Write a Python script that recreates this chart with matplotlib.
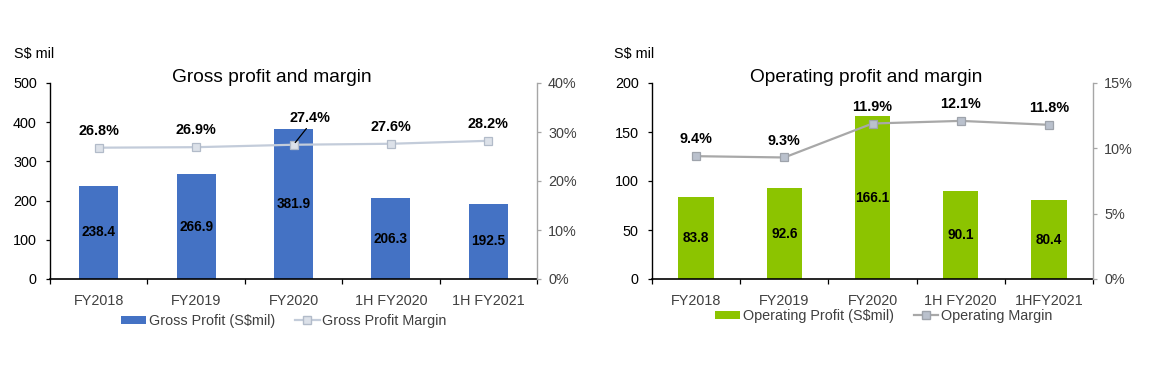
import matplotlib
matplotlib.use("Agg")
import matplotlib.pyplot as plt
from matplotlib.patches import Patch
from matplotlib.lines import Line2D
from matplotlib.ticker import FuncFormatter, FixedLocator

plt.rcParams['font.family'] = ['Liberation Sans', 'DejaVu Sans']

# ---- data ----
gp_categories = ["FY2018", "FY2019", "FY2020", "1H FY2020", "1H FY2021"]
gross_profit = [238.4, 266.9, 381.9, 206.3, 192.5]
gross_margin = [26.8, 26.9, 27.4, 27.6, 28.2]

op_categories = ["FY2018", "FY2019", "FY2020", "1H FY2020", "1HFY2021"]
op_profit = [83.8, 92.6, 166.1, 90.1, 80.4]
op_margin = [9.4, 9.3, 11.9, 12.1, 11.8]

gp_title = "Gross profit and margin"
op_title = "Operating profit and margin"
unit_label = "S$ mil"
gp_legend = ["Gross Profit (S$mil)", "Gross Profit Margin"]
op_legend = ["Operating Profit (S$mil)", "Operating Margin"]

W, H = 1154, 376
fig = plt.figure(figsize=(W / 100, H / 100), dpi=100)

FS = 10.4
TXT_GREY = "#404040"


def panel(left_px, right_px, cats, bars, margins, bar_color, ylim, ystep,
          plim, pstep, line_color, mface, medge, title, title_x, special=None):
    top_px, bot_px = 83, 279
    ax = fig.add_axes([left_px / W, 1 - bot_px / H,
                       (right_px - left_px) / W, (bot_px - top_px) / H])
    x = list(range(len(cats)))
    ax.bar(x, bars, width=0.4, color=bar_color, zorder=2)
    ax.set_xlim(-0.5, len(cats) - 0.5)
    ax.set_ylim(0, ylim)
    ax.yaxis.set_major_locator(FixedLocator(list(range(0, ylim + 1, ystep))))
    ax.set_xticks(x)
    ax.set_xticklabels(cats, fontsize=FS, color=TXT_GREY)
    ax.xaxis.set_minor_locator(FixedLocator([i - 0.5 for i in range(len(cats) + 1)]))
    ax.tick_params(axis='x', which='major', length=0, pad=11)
    ax.tick_params(axis='x', which='minor', length=3.5, width=0.9, direction='out', color='black')
    ax.tick_params(axis='y', length=3, width=0.9, pad=6.5, labelsize=FS, colors='black')
    for s in ['top', 'right']:
        ax.spines[s].set_visible(False)
    ax.spines['left'].set_linewidth(1.0)
    ax.spines['bottom'].set_linewidth(1.2)
    for i, v in enumerate(bars):
        ax.text(i, v / 2, f"{v:.1f}", ha='center', va='center', fontsize=9.8,
                fontweight='bold', color='black', zorder=3)

    ax2 = ax.twinx()
    ax2.set_ylim(0, plim)
    ax2.yaxis.set_major_locator(FixedLocator(list(range(0, plim + 1, pstep))))
    ax2.yaxis.set_major_formatter(FuncFormatter(lambda v, p: f"{v:.0f}%"))
    ax2.plot(x, margins, color=line_color, lw=1.6, marker='s', markersize=5.5,
             markerfacecolor=mface, markeredgecolor=medge, markeredgewidth=0.9, zorder=3)
    for s in ['top', 'left', 'bottom']:
        ax2.spines[s].set_visible(False)
    ax2.spines['right'].set_color('#A6A6A6')
    ax2.spines['right'].set_linewidth(1.0)
    ax2.tick_params(axis='y', length=3, width=0.9, color='#A6A6A6', pad=5,
                    labelsize=FS, labelcolor=TXT_GREY)
    for i, m in enumerate(margins):
        if special is not None and i == special:
            ax2.annotate(f"{m:.1f}%", xy=(i, m), xytext=(11.5, 19.5),
                         textcoords='offset points', ha='center', va='center',
                         fontsize=FS, fontweight='bold', color='black',
                         arrowprops=dict(arrowstyle='-', color='black', lw=0.9,
                                         relpos=(0.5, 0.0), shrinkA=1, shrinkB=2))
        else:
            ax2.annotate(f"{m:.1f}%", xy=(i, m), xytext=(0, 12.2),
                         textcoords='offset points', ha='center', va='center',
                         fontsize=FS, fontweight='bold', color='black')
    ax.text(title_x, 1.03, title, transform=ax.transAxes, ha='center', va='center',
            fontsize=13.8, color='black')
    return ax, ax2


panel(50, 537, gp_categories, gross_profit, gross_margin, "#4472C4", 500, 100,
      40, 10, "#C3CCDA", "#DCE1E9", "#B2BBC9", gp_title, 0.456, special=2)
panel(652, 1093, op_categories, op_profit, op_margin, "#8CC400", 200, 50,
      15, 5, "#A8A8A8", "#BAC1CD", "#9EA3AB", op_title, 0.485)

fig.text(14 / W, 1 - 54 / H, unit_label, fontsize=FS, ha='left', va='center', color='black')
fig.text(614 / W, 1 - 54 / H, unit_label, fontsize=FS, ha='left', va='center', color='black')

leg_kw = dict(loc='center', ncol=2, frameon=False, fontsize=FS, handlelength=1.7,
              handleheight=0.5, handletextpad=0.2, columnspacing=1.4,
              labelcolor=TXT_GREY, borderpad=0)
h1 = [Patch(facecolor="#4472C4", edgecolor='none'),
      Line2D([], [], color="#C3CCDA", lw=1.6, marker='s', markersize=5.5,
             markerfacecolor="#DCE1E9", markeredgecolor="#B2BBC9")]
fig.legend(h1, gp_legend, bbox_to_anchor=(284 / W, 1 - 321 / H), **leg_kw)
h2 = [Patch(facecolor="#8CC400", edgecolor='none'),
      Line2D([], [], color="#A8A8A8", lw=1.6, marker='s', markersize=5.5,
             markerfacecolor="#BAC1CD", markeredgecolor="#9EA3AB")]
fig.legend(h2, op_legend, bbox_to_anchor=(884 / W, 1 - 316 / H), **leg_kw)

fig.savefig("out.png", dpi=100, facecolor='white')
